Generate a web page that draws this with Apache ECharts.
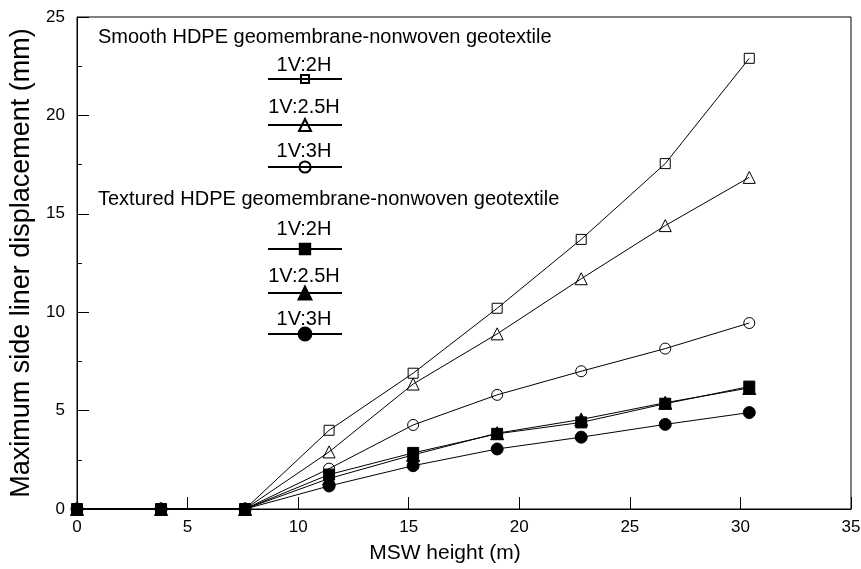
<!DOCTYPE html>
<html>
<head>
<meta charset="utf-8">
<script src="https://cdn.jsdelivr.net/npm/echarts@6/dist/echarts.min.js"></script>
<style>
  html, body { margin: 0; padding: 0; background: #fff; }
  #chart { width: 861px; height: 569px; }
</style>
</head>
<body>
<div id="chart"></div>
<script>
// MSW fill height (m) at each stage of placement
const heights = [0, 3.8, 7.6, 11.4, 15.2, 19, 22.8, 26.6, 30.4];

// Maximum side liner displacement (mm)
const smooth2H   = [0, 0, 0, 4.0, 6.9, 10.2, 13.7, 17.55, 22.9];
const smooth25H  = [0, 0, 0, 2.9, 6.35, 8.9, 11.7, 14.4, 16.85];
const smooth3H   = [0, 0, 0, 2.05, 4.27, 5.8, 7.0, 8.15, 9.45];
const textured2H  = [0, 0, 0, 1.75, 2.85, 3.82, 4.4, 5.35, 6.22];
const textured25H = [0, 0, 0, 1.55, 2.75, 3.85, 4.55, 5.4, 6.15];
const textured3H  = [0, 0, 0, 1.17, 2.2, 3.05, 3.65, 4.3, 4.9];

const slopeNames = ['1V:2H', '1V:2.5H', '1V:3H'];
const groupTitles = [
  'Smooth HDPE geomembrane-nonwoven geotextile',
  'Textured HDPE geomembrane-nonwoven geotextile'
];
const xTicks = { min: 0, max: 35, step: 5 };
const yTicks = { min: 0, max: 25, step: 5 };

const FONT = '"Liberation Sans", Arial, Helvetica, sans-serif';

const pairs = arr => arr.map((v, i) => [heights[i], v]);

function makeSeries(id, values, symbol, size, filled, z) {
  return {
    id: id,
    name: id,
    type: 'line',
    data: pairs(values),
    symbol: symbol,
    symbolSize: size,
    showAllSymbol: true,
    z: z,
    lineStyle: { color: '#000', width: 1 },
    itemStyle: filled
      ? { color: '#000', borderColor: '#000', borderWidth: 1 }
      : { color: 'transparent', borderColor: '#000', borderWidth: 1 },
    emphasis: { disabled: true },
    animation: false
  };
}

const series = [
  makeSeries('s2', smooth2H, 'rect', 10, false, 2),
  makeSeries('s25', smooth25H, 'triangle', 12, false, 2),
  makeSeries('s3', smooth3H, 'circle', 11, false, 2),
  makeSeries('t3', textured3H, 'circle', 12, true, 3),
  makeSeries('t25', textured25H, 'triangle', 13, true, 4),
  makeSeries('t2', textured2H, 'rect', 11, true, 5)
];

// Legend rows: one legend per entry, text label drawn above the icon
const legendRows = [
  { id: 's2',  lineY: 79,  h: 10 },
  { id: 's25', lineY: 125, h: 15 },
  { id: 's3',  lineY: 167, h: 14 },
  { id: 't2',  lineY: 249, h: 13 },
  { id: 't25', lineY: 293, h: 16 },
  { id: 't3',  lineY: 334, h: 16 }
];
const labelBaselines = [71, 113, 157, 235, 282, 325];
const titleBaselines = [43, 205];

const legends = legendRows.map(r => ({
  data: [r.id],
  left: 267,
  top: r.lineY - r.h / 2,
  itemWidth: 74,
  itemHeight: r.h,
  padding: 0,
  formatter: () => '',
  selectedMode: false,
  textStyle: { fontSize: 1 }
}));

const TITLE_SIZE = 20;
const LABEL_SIZE = 20;
const graphics = [];
groupTitles.forEach((t, i) => {
  graphics.push({
    type: 'text',
    x: 98,
    y: titleBaselines[i] - Math.round(TITLE_SIZE * 0.8),
    style: { text: t, fill: '#000', font: TITLE_SIZE + 'px ' + FONT, verticalAlign: 'top' }
  });
});
labelBaselines.forEach((b, i) => {
  graphics.push({
    type: 'text',
    x: 304,
    y: b - Math.round(LABEL_SIZE * 0.8),
    style: {
      text: slopeNames[i % 3],
      fill: '#000',
      font: LABEL_SIZE + 'px ' + FONT,
      align: 'center',
      verticalAlign: 'top'
    }
  });
});

const chart = echarts.init(document.getElementById('chart'), null, { renderer: 'canvas' });
chart.setOption({
  animation: false,
  backgroundColor: '#fff',
  grid: {
    left: 77, top: 17, right: 10, bottom: 60,
    containLabel: false,
    outerBoundsMode: 'none',
    show: true, borderColor: '#000', borderWidth: 1, backgroundColor: 'transparent'
  },
  xAxis: {
    type: 'value',
    min: xTicks.min, max: xTicks.max, interval: xTicks.step,
    name: 'MSW height (m)',
    nameLocation: 'middle',
    nameGap: 34,
    nameTextStyle: { fontSize: 21, fontFamily: FONT, color: '#000', padding: [0, 38, 0, 0] },
    axisLine: { lineStyle: { color: '#000', width: 1 } },
    axisTick: { inside: true, length: 12, lineStyle: { color: '#000' } },
    axisLabel: { fontSize: 17, fontFamily: FONT, color: '#000', margin: 10 },
    splitLine: { show: false }
  },
  yAxis: {
    type: 'value',
    min: yTicks.min, max: yTicks.max, interval: yTicks.step,
    name: 'Maximum side liner displacement (mm)',
    nameLocation: 'middle',
    nameGap: 41,
    nameTextStyle: { fontSize: 27, fontFamily: FONT, color: '#000' },
    axisLine: { lineStyle: { color: '#000', width: 1 } },
    axisTick: { inside: true, length: 12, lineStyle: { color: '#000' } },
    minorTick: { show: true, splitNumber: 2, length: 5, lineStyle: { color: '#000' } },
    axisLabel: { fontSize: 17, fontFamily: FONT, color: '#000', margin: 12 },
    splitLine: { show: false }
  },
  legend: legends,
  graphic: graphics,
  series: series
});
</script>
</body>
</html>
